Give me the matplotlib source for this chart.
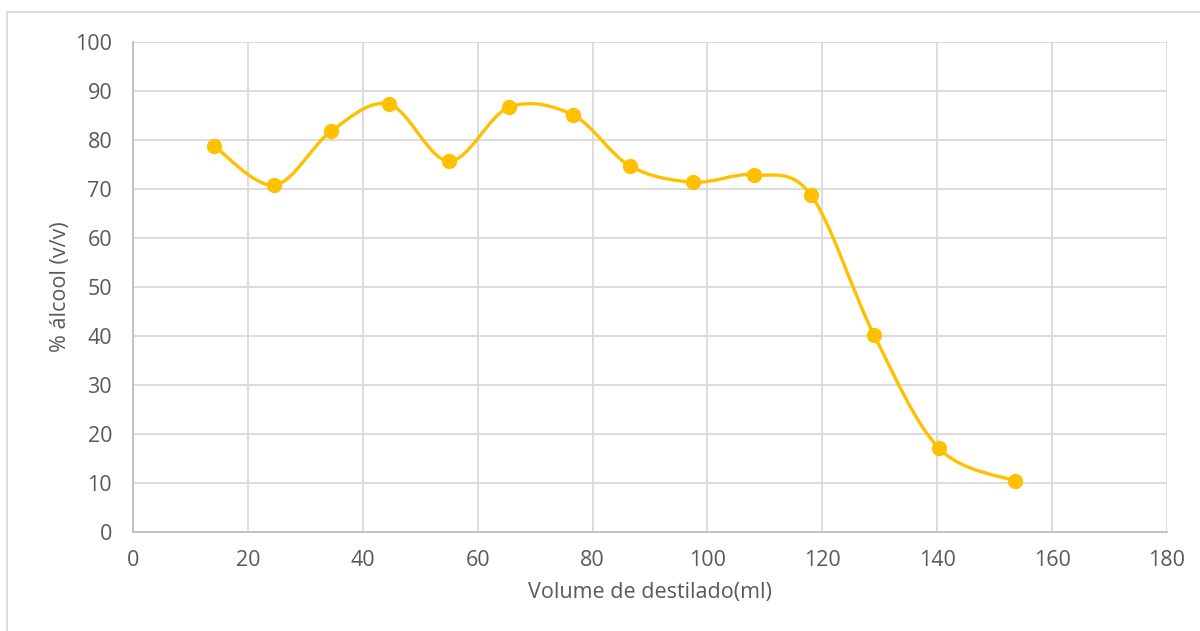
import matplotlib.pyplot as plt
import numpy as np
from matplotlib.path import Path
from matplotlib.patches import PathPatch, Rectangle

plt.rcParams['font.family'] = ['Open Sans', 'DejaVu Sans']

# destilação fracionada: volume recolhido vs teor alcoólico
volume_ml = [14.1, 24.6, 34.5, 44.6, 55.0, 65.5, 76.6, 86.5, 97.5, 108.1, 118.0, 129.0, 140.3, 153.5]
alcool_pct = [78.8, 70.8, 81.8, 87.3, 75.7, 86.7, 85.1, 74.7, 71.4, 72.9, 68.8, 40.2, 17.1, 10.4]

x_ticks = list(range(0, 181, 20))
y_ticks = list(range(0, 101, 10))

amarelo = '#FFC000'
cinza_txt = '#595959'

fig = plt.figure(figsize=(12, 6.31), dpi=100)
ax = fig.add_axes([133 / 1200, 1 - 532 / 631, (1167 - 133) / 1200, (532 - 42) / 631])

# moldura da área do gráfico
fig.patches.append(Rectangle((7 / 1200, -0.1), 1.2, 1 - 12 / 631 + 0.1,
                             transform=fig.transFigure, fill=False,
                             edgecolor='#d9d9d9', linewidth=1.3, zorder=0))


def smooth_path(xs, ys, t=1 / 6):
    # curva suavizada tipo Catmull-Rom passando pelos pontos
    p = np.column_stack([xs, ys])
    n = len(p)
    verts = [tuple(p[0])]
    codes = [Path.MOVETO]
    for i in range(n - 1):
        p0 = p[i - 1] if i > 0 else p[i]
        p1 = p[i]
        p2 = p[i + 1]
        p3 = p[i + 2] if i + 2 < n else p[i + 1]
        c1 = p1 + (p2 - p0) * t
        c2 = p2 - (p3 - p1) * t
        verts += [tuple(c1), tuple(c2), tuple(p2)]
        codes += [Path.CURVE4] * 3
    return Path(verts, codes)


ax.add_patch(PathPatch(smooth_path(volume_ml, alcool_pct), facecolor='none',
                       edgecolor=amarelo, linewidth=2.4, zorder=3, capstyle='round'))
ax.plot(volume_ml, alcool_pct, linestyle='none', marker='o', markersize=10,
        color=amarelo, zorder=4)

ax.set_xlim(0, 180)
ax.set_ylim(0, 100)
ax.set_xticks(x_ticks)
ax.set_yticks(y_ticks)
ax.grid(True, color='#d9d9d9', linewidth=1.3)
ax.set_axisbelow(True)
for s in ['top', 'right']:
    ax.spines[s].set_visible(False)
for s in ['left', 'bottom']:
    ax.spines[s].set_color('#bfbfbf')
    ax.spines[s].set_linewidth(1.3)
ax.tick_params(length=0, labelsize=15.5, labelcolor=cinza_txt)
ax.tick_params(axis='y', pad=15)
ax.tick_params(axis='x', pad=13)

ax.set_xlabel('Volume de destilado(ml)', fontsize=15.5, color=cinza_txt, labelpad=8)
ax.set_ylabel('% álcool (v/v)', fontsize=15.5, color=cinza_txt, labelpad=3)

fig.savefig('out.png', dpi=100, facecolor='white')
